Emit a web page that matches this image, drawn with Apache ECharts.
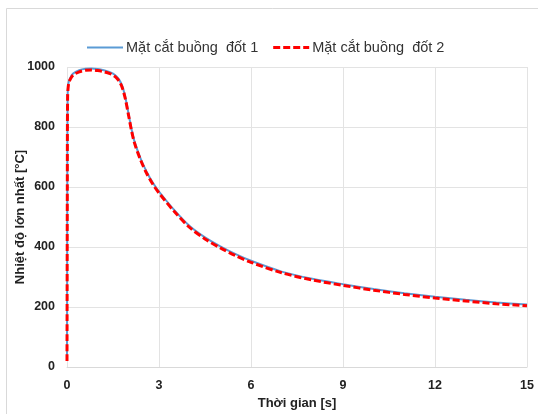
<!DOCTYPE html>
<html>
<head>
<meta charset="utf-8">
<script src="https://cdn.jsdelivr.net/npm/echarts@6/dist/echarts.min.js"></script>
<style>
  html, body { margin: 0; padding: 0; background: #fff; }
  #chart { width: 538px; height: 414px; }
</style>
</head>
<body>
<div id="chart"></div>
<script>
// Time samples [s]
const time = [0, 0.01, 0.02, 0.05, 0.1, 0.2, 0.4, 0.6, 0.8, 1.0, 1.2, 1.4, 1.5, 1.6, 1.7, 1.8, 1.9, 2.0, 2.1, 2.2, 2.4, 2.6, 2.8, 3.0, 3.5, 4.0, 4.5, 5.0, 5.5, 6.0, 7.0, 8.0, 9.0, 10, 11, 12, 13, 14, 15];
// Maximum temperature, section 1 [°C]
const section1 = [20, 600, 905, 948, 963, 978, 989, 994, 995, 993, 989, 983, 978, 970, 958, 937, 900, 848, 795, 752, 695, 650, 614, 585, 523, 470, 432, 402, 376, 354, 318, 294, 276, 260, 246, 234, 224, 215, 208];
// Maximum temperature, section 2 [°C]
const section2 = [20, 595, 900, 943, 958, 973, 984, 989, 990, 988, 984, 978, 973, 965, 953, 932, 895, 843, 790, 747, 690, 645, 609, 580, 518, 465, 427, 397, 371, 349, 314, 290, 272, 256, 242, 230, 220, 211, 204];
const xTicks = [0, 3, 6, 9, 12, 15];
const yTicks = [0, 200, 400, 600, 800, 1000];

const seriesNames = ['Mặt cắt buồng  đốt 1', 'Mặt cắt buồng  đốt 2'];
const pairs = (ys) => time.map((t, i) => [t, ys[i]]);

const chart = echarts.init(document.getElementById('chart'), null, { renderer: 'canvas' });
const font = 'Liberation Sans, Arial, sans-serif';
chart.setOption({
  animation: false,
  backgroundColor: '#fff',
  graphic: [{
    type: 'rect',
    shape: { x: 6.5, y: 8.5, width: 540, height: 420 },
    style: { fill: 'none', stroke: '#d9d9d9', lineWidth: 1 },
    silent: true
  }],
  legend: {
    top: 35,
    left: 82,
    itemGap: 15,
    itemWidth: 36,
    itemHeight: 14,
    textStyle: { fontFamily: font, fontSize: 14.5, color: '#333', padding: [0, 0, 0, -2] },
    data: [
      { name: seriesNames[0], icon: 'path://M0,6 L36,6 L36,8 L0,8 Z' },
      { name: seriesNames[1], icon: 'path://M0,5.5 L7,5.5 L7,8.5 L0,8.5 Z M10,5.5 L17,5.5 L17,8.5 L10,8.5 Z M20,5.5 L27,5.5 L27,8.5 L20,8.5 Z M30,5.5 L36,5.5 L36,8.5 L30,8.5 Z' }
    ]
  },
  grid: { left: 67, right: 11, top: 67, bottom: 47, containLabel: false, outerBoundsMode: 'none' },
  xAxis: {
    type: 'value',
    min: xTicks[0],
    max: xTicks[xTicks.length - 1],
    interval: 3,
    name: 'Thời gian [s]',
    nameLocation: 'middle',
    nameGap: 30,
    nameMoveOverlap: false,
    nameTextStyle: { fontFamily: font, fontSize: 13, fontWeight: 'bold', color: '#222' },
    axisLine: { show: true, lineStyle: { color: '#d9d9d9' } },
    axisTick: { show: false },
    axisLabel: { fontFamily: font, fontSize: 12.5, fontWeight: 'bold', color: '#222', margin: 12 },
    splitLine: { show: true, lineStyle: { color: '#e3e3e3' } }
  },
  yAxis: {
    type: 'value',
    min: yTicks[0],
    max: yTicks[yTicks.length - 1],
    interval: 200,
    name: 'Nhiệt độ lớn nhất [°C]',
    nameLocation: 'middle',
    nameGap: 40,
    nameMoveOverlap: false,
    nameTextStyle: { fontFamily: font, fontSize: 13, fontWeight: 'bold', color: '#222' },
    axisLine: { show: false },
    axisTick: { show: false },
    axisLabel: { fontFamily: font, fontSize: 12.5, fontWeight: 'bold', color: '#222', margin: 12, formatter: (v) => String(v) },
    splitLine: { show: true, lineStyle: { color: '#e3e3e3' } }
  },
  series: [
    {
      name: seriesNames[0],
      type: 'line',
      data: pairs(section1),
      showSymbol: false,
      smooth: 0.3,
      lineStyle: { color: '#5b9bd5', width: 2 },
      itemStyle: { color: '#5b9bd5' },
      z: 2
    },
    {
      name: seriesNames[1],
      type: 'line',
      data: pairs(section2),
      showSymbol: false,
      smooth: 0.3,
      lineStyle: { color: '#ff0000', width: 3, type: [7, 3] },
      itemStyle: { color: '#ff0000' },
      z: 3
    }
  ]
});
</script>
</body>
</html>
